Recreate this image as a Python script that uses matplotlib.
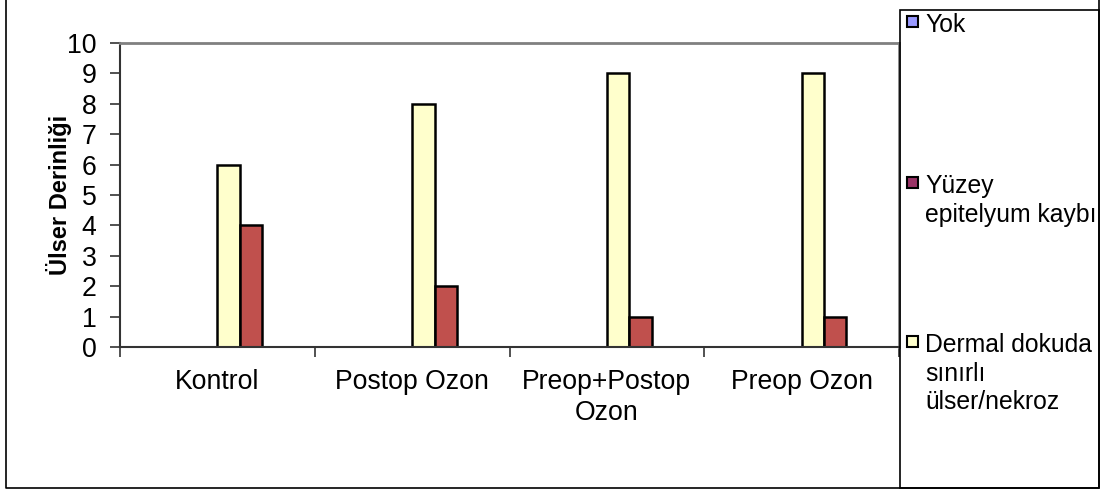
import matplotlib.pyplot as plt
import matplotlib.patches as mpatches
from matplotlib.lines import Line2D
import numpy as np

plt.rcParams['font.family'] = ['Liberation Sans', 'DejaVu Sans']

categories = ['Kontrol', 'Postop Ozon', 'Preop+Postop\nOzon', 'Preop Ozon']
series = ['Yok', 'Yüzey\nepitelyum kaybı', 'Dermal dokuda\nsınırlı\nülser/nekroz']
yok = [0, 0, 0, 0]
yuzey = [4, 2, 1, 1]
dermal = [6, 8, 9, 9]
bar_colors = ['#9999FF', '#C0504D', '#FFFFCC']
legend_colors = ['#9999FF', '#993366', '#FFFFCC']

W, H = 1103, 490
fig = plt.figure(figsize=(W / 100, H / 100), dpi=100)

# plot area in pixel coords of the reference
x0, x1, ytop, ybot = 120, 899, 43, 347
ax = fig.add_axes([x0 / W, (H - ybot) / H, (x1 - x0) / W, (ybot - ytop) / H])

x = np.arange(len(categories))
bw = 0.115
# Excel order inside a group: Yok, Dermal, Yüzey
ax.bar(x - bw / 2, yok, bw, color=bar_colors[0], edgecolor='black', linewidth=1.8)
ax.bar(x + bw / 2, dermal, bw, color=bar_colors[2], edgecolor='black', linewidth=1.8)
ax.bar(x + 1.5 * bw, yuzey, bw, color=bar_colors[1], edgecolor='black', linewidth=1.8)

ax.set_xlim(-0.5, len(categories) - 0.5)
ax.set_ylim(0, 10)
ax.set_yticks(range(0, 11))
ax.set_xticks(x)
ax.set_xticklabels(categories, fontsize=19.2, linespacing=1.25)
ax.set_xticks(np.arange(-0.5, len(categories), 1), minor=True)
ax.tick_params(axis='x', which='major', length=0, pad=16)
ax.tick_params(axis='x', which='minor', length=7, width=1.2, color='#333333')
ax.tick_params(axis='y', length=7, width=1.2, color='#333333', labelsize=19.2, pad=10)
for lab in ax.get_xticklabels():
    lab.set_verticalalignment('top')

for s in ['left', 'bottom']:
    ax.spines[s].set_color('#333333')
    ax.spines[s].set_linewidth(1.5)
for s in ['top', 'right']:
    ax.spines[s].set_color('#808080')
    ax.spines[s].set_linewidth(2)

ax.set_ylabel('Ülser Derinliği', fontsize=17, fontweight='bold')
ax.yaxis.set_label_coords(-0.062, 0.5)

# outer chart border
fig.add_artist(Line2D([6 / W, 6 / W, 1099 / W, 1099 / W], [1, 2 / H, 2 / H, 1],
                      transform=fig.transFigure, color='black', lw=1.2))
# legend box
fig.add_artist(mpatches.Rectangle((900 / W, 2 / H), 199 / W, (488 - 10) / H,
                                  transform=fig.transFigure, fill=False,
                                  edgecolor='black', lw=1.2))

leg_y = [22, 183, 342]
for lab, col, yy in zip(series, legend_colors, leg_y):
    fig.add_artist(mpatches.Rectangle((907 / W, (H - yy - 5) / H), 11 / W, 11 / H,
                                      transform=fig.transFigure, facecolor=col,
                                      edgecolor='black', lw=1.5))
    fig.text(925 / W, (H - yy + 9) / H, lab, fontsize=17.8, va='top', ha='left',
             linespacing=1.24)

fig.savefig('out.png', dpi=100)
